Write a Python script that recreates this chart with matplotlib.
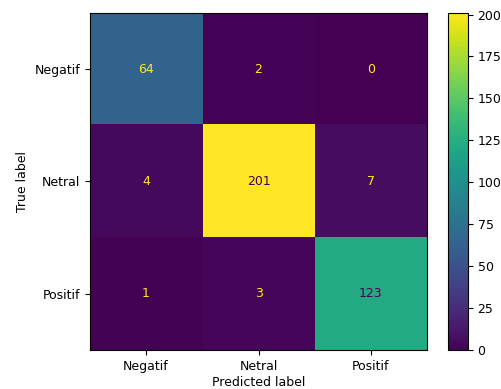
import numpy as np
import matplotlib
matplotlib.use("Agg")
from matplotlib import pyplot as plt

labels = ["Negatif", "Netral", "Positif"]
counts = np.array([
    [64, 2, 0],
    [4, 201, 7],
    [1, 3, 123],
])

fig = plt.figure(figsize=(5.02, 3.89), dpi=100)
ax = fig.add_axes([0.179, 0.100, 0.672, 0.867])
cax = fig.add_axes([0.892, 0.100, 0.040, 0.867])

cmap = plt.get_cmap("viridis")
im = ax.imshow(counts, cmap=cmap, interpolation="nearest", aspect="auto")
fig.colorbar(im, cax=cax)

# text colour flips at the midpoint, like sklearn does
thresh = (counts.max() + counts.min()) / 2.0
for i in range(counts.shape[0]):
    for j in range(counts.shape[1]):
        color = cmap(0) if counts[i, j] >= thresh else cmap(1.0)
        ax.text(j, i, format(counts[i, j], "d"), ha="center", va="center", color=color, fontsize=9)

ax.set_xticks(range(len(labels)))
ax.set_xticklabels(labels, fontsize=9)
ax.set_yticks(range(len(labels)))
ax.set_yticklabels(labels, fontsize=9)
ax.set_xlabel("Predicted label", fontsize=9, labelpad=2)
ax.set_ylabel("True label", fontsize=9)
cax.tick_params(labelsize=9)

fig.savefig("out.png", dpi=100)
